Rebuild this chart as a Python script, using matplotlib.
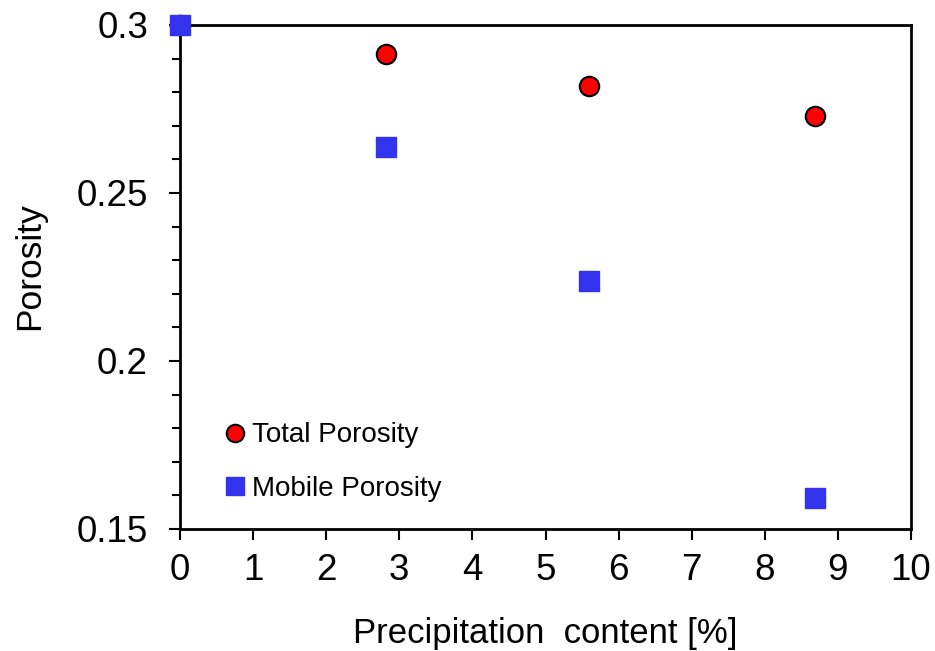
import matplotlib.pyplot as plt
from matplotlib.ticker import MultipleLocator

plt.rcParams['font.family'] = ['Liberation Sans', 'DejaVu Sans']

precip = [0, 2.82, 5.6, 8.68]
total_por = [0.300, 0.2915, 0.2817, 0.2730]
mobile_por = [0.300, 0.2638, 0.2239, 0.1592]

fig = plt.figure(figsize=(9.35, 6.51), dpi=100)
ax = fig.add_axes([180 / 935, 1 - 529 / 651, 731 / 935, 504 / 651])

ax.plot(precip, total_por, 'o', ms=14, mfc='#ff0000', mec='black', mew=1.5,
        clip_on=False, zorder=3, label='Total Porosity')
ax.plot(precip, mobile_por, 's', ms=14, color='#3333ee', mec='#3333ee',
        clip_on=False, zorder=4, label='Mobile Porosity')

ax.set_xlim(0, 10)
ax.set_ylim(0.15, 0.3)
ax.xaxis.set_major_locator(MultipleLocator(1))
ax.yaxis.set_minor_locator(MultipleLocator(0.01))
ax.set_yticks([0.15, 0.2, 0.25, 0.3])
ax.set_yticklabels(['0.15', '0.2', '0.25', '0.3'])

for sp in ax.spines.values():
    sp.set_linewidth(2)
ax.tick_params(axis='both', which='major', direction='out', length=8,
               width=1.5, labelsize=26.5)
ax.tick_params(axis='x', which='major', pad=9)
ax.tick_params(axis='y', which='major', pad=15)
ax.tick_params(axis='y', which='minor', direction='out', length=6, width=1.5)

ax.set_xlabel('Precipitation  content [%]', fontsize=25, labelpad=21)
ax.set_ylabel('Porosity', fontsize=25.5, labelpad=22)
ax.yaxis.label.set_y(0.522)

ax.legend(loc='lower left', bbox_to_anchor=(0.03, 0.004), frameon=False,
          fontsize=20, markerscale=0.9, handlelength=0.6, handletextpad=0.3,
          labelspacing=0.99)

fig.savefig('out.png', dpi=100)
